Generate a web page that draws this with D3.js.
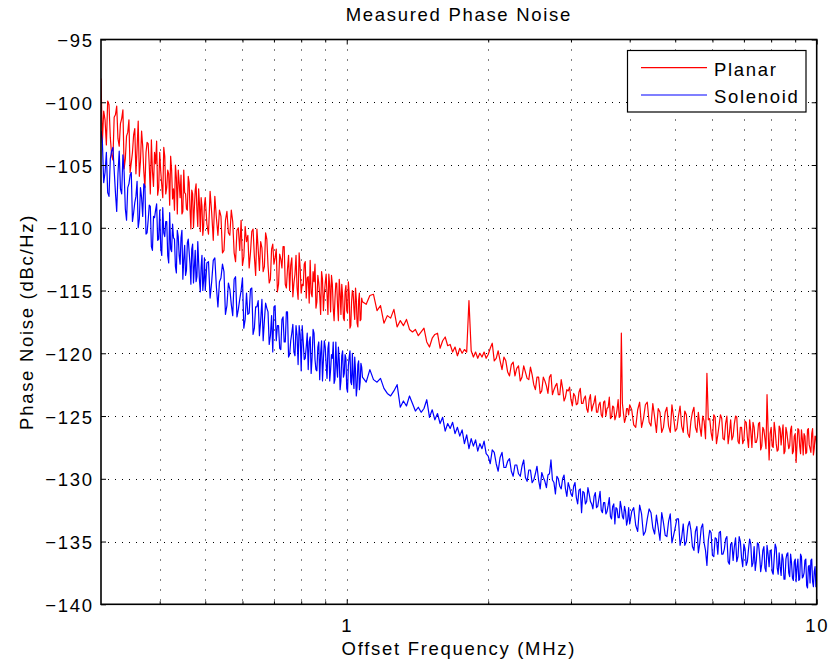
<!DOCTYPE html>
<html>
<head>
<meta charset="utf-8">
<script src="https://cdn.jsdelivr.net/npm/d3@7"></script>
<style>
  html, body { margin: 0; padding: 0; background: #fff; }
  svg { display: block; }
  text { font-family: "Liberation Sans", Arial, Helvetica, sans-serif; fill: #000; }
</style>
</head>
<body>
<svg id="chart" width="828" height="664"></svg>
<script>
// Offset frequencies (MHz): fine sweep 0.300–1.076, coarse sweep 1.08–10
const freqMHz = [
  0.300,0.302,0.304,0.306,0.308,0.310,0.312,0.314,0.316,0.318,
  0.320,0.322,0.324,0.326,0.328,0.330,0.332,0.334,0.336,0.338,
  0.340,0.342,0.344,0.346,0.348,0.350,0.352,0.354,0.356,0.358,
  0.360,0.362,0.364,0.366,0.368,0.370,0.372,0.374,0.376,0.378,
  0.380,0.382,0.384,0.386,0.388,0.390,0.392,0.394,0.396,0.398,
  0.400,0.402,0.404,0.406,0.408,0.410,0.412,0.414,0.416,0.418,
  0.420,0.422,0.424,0.426,0.428,0.430,0.432,0.434,0.436,0.438,
  0.440,0.442,0.444,0.446,0.448,0.450,0.452,0.454,0.456,0.458,
  0.460,0.462,0.464,0.466,0.468,0.470,0.472,0.474,0.476,0.478,
  0.480,0.482,0.484,0.486,0.488,0.490,0.492,0.494,0.496,0.498,
  0.500,0.504,0.508,0.512,0.516,0.520,0.524,0.528,0.532,0.536,
  0.540,0.544,0.548,0.552,0.556,0.560,0.564,0.568,0.572,0.576,
  0.580,0.584,0.588,0.592,0.596,0.600,0.604,0.608,0.612,0.616,
  0.620,0.624,0.628,0.632,0.636,0.640,0.644,0.648,0.652,0.656,
  0.660,0.664,0.668,0.672,0.676,0.680,0.684,0.688,0.692,0.696,
  0.700,0.704,0.708,0.712,0.716,0.720,0.724,0.728,0.732,0.736,
  0.740,0.744,0.748,0.752,0.756,0.760,0.764,0.768,0.772,0.776,
  0.780,0.784,0.788,0.792,0.796,0.800,0.804,0.808,0.812,0.816,
  0.820,0.824,0.828,0.832,0.836,0.840,0.844,0.848,0.852,0.856,
  0.860,0.864,0.868,0.872,0.876,0.880,0.884,0.888,0.892,0.896,
  0.900,0.904,0.908,0.912,0.916,0.920,0.924,0.928,0.932,0.936,
  0.940,0.944,0.948,0.952,0.956,0.960,0.964,0.968,0.972,0.976,
  0.980,0.984,0.988,0.992,0.996,1.000,1.004,1.008,1.012,1.016,
  1.020,1.024,1.028,1.032,1.036,1.040,1.044,1.048,1.052,1.056,
  1.060,1.064,1.068,1.072,1.076,
  1.08,1.10,1.12,1.14,1.16,1.18,1.20,1.22,1.24,1.26,
  1.28,1.30,1.32,1.34,1.36,1.38,1.40,1.42,1.44,1.46,
  1.48,1.50,1.52,1.54,1.56,1.58,1.60,1.62,1.64,1.66,
  1.68,1.70,1.72,1.74,1.76,1.78,1.80,1.82,1.84,1.86,
  1.88,1.90,1.92,1.94,1.96,1.98,
  2.00,2.02,2.04,2.06,2.08,2.10,2.12,2.14,2.16,2.18,
  2.20,2.22,2.24,2.26,2.28,2.30,2.32,2.34,2.36,2.38,
  2.40,2.42,2.44,2.46,2.48,2.50,2.52,2.54,2.56,2.58,
  2.60,2.62,2.64,2.66,2.68,2.70,2.72,2.74,2.76,2.78,
  2.80,2.82,2.84,2.86,2.88,2.90,2.92,2.94,2.96,2.98,
  3.00,3.02,3.04,3.06,3.08,3.10,3.12,3.14,3.16,3.18,
  3.20,3.22,3.24,3.26,3.28,3.30,3.32,3.34,3.36,3.38,
  3.40,3.42,3.44,3.46,3.48,3.50,3.52,3.54,3.56,3.58,
  3.60,3.62,3.64,3.66,3.68,3.70,3.72,3.74,3.76,3.78,
  3.80,3.82,3.84,3.86,3.88,3.90,3.92,3.94,3.96,3.98,
  4.00,4.04,4.08,4.12,4.16,4.20,4.24,4.28,4.32,4.36,
  4.40,4.44,4.48,4.52,4.56,4.60,4.64,4.68,4.72,4.76,
  4.80,4.84,4.88,4.92,4.96,5.00,5.04,5.08,5.12,5.16,
  5.20,5.24,5.28,5.32,5.36,5.40,5.44,5.48,5.52,5.56,
  5.60,5.64,5.68,5.72,5.76,5.80,5.84,5.88,5.92,5.96,
  6.00,6.04,6.08,6.12,6.16,6.20,6.24,6.28,6.32,6.36,
  6.40,6.44,6.48,6.52,6.56,6.60,6.64,6.68,6.72,6.76,
  6.80,6.84,6.88,6.92,6.96,7.00,7.04,7.08,7.12,7.16,
  7.20,7.24,7.28,7.32,7.36,7.40,7.44,7.48,7.52,7.56,
  7.60,7.64,7.68,7.72,7.76,7.80,7.84,7.88,7.92,7.96,
  8.00,8.04,8.08,8.12,8.16,8.20,8.24,8.28,8.32,8.36,
  8.40,8.44,8.48,8.52,8.56,8.60,8.64,8.68,8.72,8.76,
  8.80,8.84,8.88,8.92,8.96,9.00,9.04,9.08,9.12,9.16,
  9.20,9.24,9.28,9.32,9.36,9.40,9.44,9.48,9.52,9.56,
  9.60,9.64,9.68,9.72,9.76,9.80,9.84,9.88,9.92,9.96,
  10.00
];

// Planar inductor oscillator (dBc/Hz)
const planarDbc = [
  -98.1,-103.2,-100.7,-101.4,-103.4,-99.9,-100.2,-102.8,-104.2,-104.6,
  -101.2,-101.0,-100.3,-102.9,-103.5,-101.7,-101.3,-100.6,-105.3,-104.5,
  -102.7,-102.4,-101.4,-105.6,-104.8,-104.0,-102.6,-102.1,-105.7,-103.7,
  -101.5,-105.9,-104.7,-102.3,-103.5,-105.5,-106.8,-104.0,-103.2,-103.3,
  -105.0,-107.3,-103.0,-105.5,-106.7,-104.0,-104.9,-103.1,-107.4,-106.8,
  -104.0,-105.5,-106.6,-107.6,-103.6,-104.3,-107.3,-106.8,-105.4,-105.7,
  -108.2,-104.3,-105.4,-107.7,-106.9,-108.6,-105.0,-106.0,-108.9,-105.4,
  -106.4,-107.6,-105.8,-108.9,-108.7,-105.4,-107.2,-107.3,-108.5,-108.6,
  -105.9,-106.4,-108.5,-110.1,-107.0,-107.3,-110.0,-108.4,-107.0,-106.5,
  -108.6,-109.9,-106.9,-108.1,-110.3,-107.6,-108.3,-110.6,-109.9,-108.2,
  -107.6,-109.7,-110.5,-107.1,-108.8,-111.0,-107.5,-109.2,-110.6,-108.6,
  -109.1,-112.0,-111.8,-109.4,-108.7,-110.4,-110.6,-108.6,-109.5,-112.0,
  -112.7,-110.2,-110.0,-111.8,-109.4,-113.0,-112.3,-109.9,-111.1,-110.6,
  -113.2,-112.0,-110.3,-110.1,-112.3,-113.8,-110.1,-111.7,-113.4,-111.1,
  -111.6,-113.5,-113.1,-110.4,-110.9,-113.0,-114.4,-114.1,-111.7,-111.3,
  -112.9,-112.4,-111.7,-115.1,-114.5,-112.1,-112.5,-113.2,-111.5,-111.5,
  -114.5,-114.8,-113.3,-112.2,-115.0,-113.0,-112.4,-115.5,-114.4,-113.7,
  -112.2,-114.8,-115.7,-112.0,-113.2,-115.2,-114.5,-114.6,-112.9,-112.7,
  -115.6,-114.0,-113.9,-116.0,-112.6,-115.2,-115.5,-113.5,-114.3,-112.9,
  -116.4,-115.9,-113.8,-114.4,-115.4,-116.9,-113.5,-114.1,-116.6,-115.3,
  -114.4,-113.7,-115.3,-116.9,-113.7,-114.6,-116.7,-113.8,-114.5,-116.4,
  -117.4,-115.7,-114.4,-114.4,-116.2,-117.4,-114.1,-115.2,-116.9,-114.5,
  -115.4,-117.2,-117.4,-115.1,-114.6,-116.6,-116.8,-114.3,-115.2,-118.0,
  -117.8,-115.9,-115.0,-115.2,-116.5,-117.3,-114.8,-115.7,-117.6,-117.9,
  -115.8,-115.2,-117.4,-117.3,-115.6,
  -115.9,-116.1,-115.4,-115.3,-116.6,-116.2,-117.6,-117.0,-117.2,-116.5,
  -117.9,-117.4,-117.8,-117.3,-118.1,-118.3,-118.1,-118.6,-118.3,-118.0,
  -119.1,-119.5,-118.8,-118.5,-118.4,-119.6,-119.0,-118.7,-119.4,-119.3,
  -119.9,-119.5,-120.2,-119.6,-120.0,-119.7,-119.9,-115.8,-119.8,-120.3,
  -119.9,-120.4,-120.0,-120.3,-119.9,-120.4,
  -120.1,-119.6,-119.2,-120.6,-120.4,-119.8,-120.6,-121.3,-120.3,-120.6,
  -121.5,-121.8,-120.9,-120.7,-121.8,-121.2,-121.0,-122.2,-121.9,-121.0,
  -121.5,-122.0,-122.1,-121.1,-121.7,-122.5,-122.9,-121.9,-121.9,-123.2,
  -123.0,-121.9,-122.2,-122.6,-123.2,-121.9,-121.7,-123.3,-122.9,-122.6,
  -122.4,-123.3,-123.3,-122.1,-122.8,-123.8,-123.5,-122.9,-123.0,-122.7,
  -123.7,-124.2,-123.2,-123.4,-124.1,-124.0,-123.1,-122.8,-124.0,-124.0,
  -123.6,-123.4,-124.4,-124.7,-123.7,-123.3,-124.6,-124.2,-123.9,-123.4,
  -124.7,-124.7,-124.1,-123.9,-124.9,-125.1,-123.9,-123.8,-125.0,-124.4,
  -124.3,-123.5,-125.2,-125.1,-124.2,-124.3,-125.3,-125.0,-124.5,-123.7,
  -125.1,-125.0,-118.4,-124.0,-124.8,-125.5,-125.2,-124.4,-124.4,-124.9,
  -124.1,-124.5,-125.7,-125.9,-124.5,-123.9,-125.9,-125.2,-124.1,-123.9,
  -125.5,-125.8,-124.0,-125.1,-126.3,-124.4,-124.7,-126.3,-125.9,-124.7,
  -124.3,-125.8,-126.3,-124.1,-125.1,-126.2,-126.0,-125.0,-124.2,-125.8,
  -126.3,-124.6,-124.9,-126.4,-126.7,-125.4,-124.7,-124.3,-125.9,-126.3,
  -124.7,-125.8,-126.6,-125.0,-125.4,-126.8,-121.6,-125.3,-125.2,-126.3,
  -126.9,-124.9,-125.1,-127.2,-126.5,-125.7,-124.9,-125.2,-126.8,-126.9,
  -125.6,-125.0,-127.2,-126.4,-125.3,-126.9,-126.6,-125.6,-125.0,-125.1,
  -127.0,-127.2,-125.9,-125.9,-127.2,-126.9,-125.4,-125.5,-126.7,-127.5,
  -125.3,-126.2,-127.5,-125.5,-125.9,-127.1,-127.1,-126.7,-125.6,-125.5,
  -127.7,-127.4,-125.9,-126.1,-126.8,-127.6,-123.3,-126.0,-128.5,-126.4,
  -125.9,-127.4,-127.5,-125.5,-126.2,-127.2,-127.8,-127.7,-125.8,-126.0,
  -127.3,-126.4,-125.7,-128.0,-127.8,-125.9,-126.3,-127.0,-127.6,-127.4,
  -126.1,-125.8,-128.0,-127.8,-126.6,-126.4,-128.7,-127.3,-126.0,-126.1,
  -127.4,-128.0,-126.1,-126.8,-128.1,-126.4,-126.6,-128.0,-127.9,-126.1,
  -126.0,-127.3,-127.6,-127.9,-126.4,-126.0,-128.1,-127.6,-126.6,-126.7,
  -127.4
];

// Solenoid inductor oscillator (dBc/Hz)
const solenoidDbc = [
  -102.3,-103.1,-106.4,-105.6,-104.0,-107.2,-107.5,-104.5,-103.9,-103.6,
  -105.4,-107.2,-108.7,-105.7,-103.9,-106.9,-107.3,-104.2,-105.6,-108.5,
  -109.4,-106.8,-106.5,-105.8,-105.6,-109.5,-108.8,-108.0,-107.5,-106.3,
  -110.0,-109.3,-106.8,-107.6,-109.1,-106.5,-106.7,-110.5,-110.4,-109.4,
  -108.2,-108.3,-111.5,-111.8,-109.1,-109.2,-108.6,-108.1,-111.0,-110.9,
  -108.6,-111.6,-112.2,-108.4,-110.4,-110.7,-109.5,-109.5,-112.2,-112.8,
  -108.8,-111.7,-111.9,-109.7,-110.8,-110.9,-113.1,-113.6,-110.2,-110.7,
  -112.2,-112.9,-110.8,-110.2,-114.1,-112.5,-111.4,-113.8,-113.4,-111.2,
  -110.9,-111.9,-112.9,-114.5,-111.7,-111.3,-114.4,-113.1,-111.8,-114.3,
  -113.9,-111.1,-112.7,-114.2,-115.1,-113.1,-112.2,-115.0,-114.2,-112.4,
  -115.0,-112.8,-112.7,-115.6,-114.3,-112.6,-112.4,-114.7,-116.3,-114.3,
  -114.0,-112.9,-113.5,-116.9,-116.2,-114.4,-114.9,-116.1,-117.0,-114.1,
  -113.9,-117.1,-116.5,-115.7,-115.0,-114.0,-118.0,-117.3,-115.2,-116.9,
  -116.8,-114.9,-114.8,-118.5,-118.0,-116.3,-116.3,-115.8,-118.6,-117.4,
  -115.7,-119.0,-117.4,-116.0,-116.4,-116.7,-119.3,-118.6,-117.0,-119.9,
  -116.3,-116.2,-119.0,-117.8,-117.8,-119.6,-119.7,-117.3,-117.1,-119.1,
  -119.1,-116.7,-116.7,-120.3,-120.1,-119.0,-118.4,-117.7,-119.9,-120.2,
  -117.8,-118.6,-120.9,-117.8,-118.5,-121.4,-117.8,-119.1,-120.5,-120.4,
  -119.5,-118.4,-121.3,-119.1,-118.7,-121.6,-120.3,-118.1,-118.4,-120.5,
  -121.3,-121.4,-119.5,-119.1,-122.1,-120.0,-119.0,-122.2,-120.5,-119.0,
  -119.5,-120.9,-122.0,-119.6,-119.1,-122.2,-121.3,-120.1,-120.4,-119.1,
  -122.4,-122.1,-119.1,-121.0,-121.9,-119.5,-120.5,-122.9,-122.2,-120.2,
  -119.8,-121.9,-121.6,-120.1,-120.4,-122.8,-123.1,-121.0,-120.3,-119.8,
  -122.3,-122.5,-120.0,-121.9,-122.8,-120.3,-121.4,-123.4,-122.7,-120.9,
  -120.6,-122.9,-122.3,-120.8,-121.1,
  -121.9,-122.3,-121.3,-122.1,-122.3,-122.0,-122.8,-123.2,-123.4,-123.0,
  -122.5,-124.3,-123.8,-124.2,-123.4,-124.0,-124.6,-124.3,-124.7,-124.4,
  -123.7,-125.1,-124.5,-125.3,-124.8,-125.6,-125.1,-126.2,-125.6,-126.0,
  -125.5,-126.4,-125.9,-126.6,-126.1,-127.2,-126.5,-127.6,-126.8,-127.4,
  -126.9,-127.8,-127.2,-127.6,-127.0,-128.0,
  -128.2,-128.8,-127.7,-127.9,-128.8,-129.4,-128.3,-127.9,-129.1,-129.1,
  -128.6,-128.4,-129.4,-129.8,-128.9,-128.9,-129.6,-129.8,-129.0,-128.5,
  -129.9,-130.2,-129.3,-129.3,-130.3,-130.1,-129.6,-129.0,-130.1,-130.8,
  -129.5,-129.9,-130.2,-130.7,-129.7,-129.6,-128.5,-130.1,-130.3,-131.2,
  -129.8,-130.0,-130.6,-130.8,-130.0,-129.7,-130.8,-131.4,-130.3,-130.7,
  -131.2,-131.4,-130.6,-130.3,-131.5,-132.0,-130.9,-130.8,-132.7,-131.0,
  -131.1,-132.0,-131.8,-130.7,-131.2,-131.8,-132.0,-132.4,-131.4,-131.1,
  -132.3,-132.2,-131.6,-131.0,-132.5,-132.7,-131.9,-131.9,-132.8,-132.6,
  -132.1,-131.5,-133.0,-133.2,-132.2,-132.0,-133.6,-132.3,-132.4,-133.1,
  -133.1,-131.8,-132.3,-133.0,-133.2,-132.2,-132.6,-133.7,-133.3,-132.3,
  -133.6,-132.6,-132.3,-133.7,-134.2,-132.1,-132.8,-134.5,-134.2,-133.2,
  -132.4,-132.7,-133.9,-134.4,-132.9,-133.9,-134.9,-132.7,-133.5,-134.5,
  -134.6,-133.4,-132.8,-135.1,-134.5,-133.9,-133.2,-133.2,-135.3,-134.7,
  -133.6,-135.3,-135.0,-133.8,-133.4,-134.1,-135.4,-135.7,-134.2,-133.8,
  -135.9,-135.1,-133.9,-133.6,-135.1,-135.7,-136.9,-134.9,-134.1,-134.3,
  -136.1,-136.2,-134.7,-134.8,-136.0,-134.3,-134.2,-136.0,-136.0,-135.6,
  -134.8,-134.6,-136.6,-136.8,-135.2,-135.1,-136.5,-135.4,-134.7,-136.6,
  -136.2,-134.6,-135.0,-136.3,-137.0,-135.2,-135.6,-136.9,-136.6,-135.6,
  -134.8,-135.2,-137.0,-136.7,-135.4,-137.3,-136.5,-135.1,-135.2,-136.1,
  -137.4,-136.8,-135.7,-135.4,-137.1,-137.4,-135.3,-136.0,-137.0,-135.7,
  -135.7,-137.4,-137.6,-136.3,-135.2,-135.5,-137.1,-137.6,-135.9,-137.0,
  -137.7,-136.0,-136.4,-138.0,-138.0,-136.4,-136.0,-135.9,-137.5,-137.8,
  -136.0,-136.7,-137.9,-138.1,-136.6,-136.4,-138.2,-137.0,-136.4,-138.1,
  -138.0,-136.0,-136.2,-137.9,-137.8,-137.5,-136.5,-136.4,-138.5,-138.7,
  -137.0,-136.9,-138.3,-136.5,-136.4,-138.2,-138.6,-137.4,-137.0,-138.6,
  -138.0
];

const seriesNames  = ["Planar", "Solenoid"];
const seriesColors = ["#ff0000", "#0000ff"];
const yTicks       = [-140, -135, -130, -125, -120, -115, -110, -105, -100, -95];
const xMajorTicks  = [1, 10];
const xMinorTicks  = [0.4, 0.5, 0.6, 0.7, 0.8, 0.9, 2, 3, 4, 5, 6, 7, 8, 9];
const titleText    = "Measured Phase Noise";
const xLabelText   = "Offset Frequency (MHz)";
const yLabelText   = "Phase Noise (dBc/Hz)";

// ---- layout ----
const box = { left: 101, right: 816.7, top: 39.5, bottom: 604.3 };
const fontSize = "18.5px";
const spacing = "1.7px";

const svg = d3.select("#chart");
const x = d3.scaleLog().domain([0.3, 10]).range([box.left, box.right]);
const y = d3.scaleLinear().domain([-140, -95]).range([box.bottom, box.top]);

svg.append("defs").append("clipPath").attr("id", "plot-clip")
  .append("rect")
  .attr("x", box.left).attr("y", box.top)
  .attr("width", box.right - box.left).attr("height", box.bottom - box.top);

// dotted grid
const grid = svg.append("g").attr("fill", "none");
grid.selectAll(".gh")
  .data(yTicks.filter(v => v > -140 && v < -95))
  .join("line").attr("class", "gh")
  .attr("x1", box.left).attr("x2", box.right)
  .attr("y1", d => Math.round(y(d)) + 0.5).attr("y2", d => Math.round(y(d)) + 0.5)
  .style("stroke", "#000").style("stroke-width", 1)
  .attr("stroke-dasharray", "1,6");
grid.selectAll(".gv")
  .data(xMinorTicks.concat([1]))
  .join("line").attr("class", "gv")
  .attr("x1", d => Math.round(x(d)) + 0.5).attr("x2", d => Math.round(x(d)) + 0.5)
  .attr("y1", box.top).attr("y2", box.bottom)
  .style("stroke", "#000").style("stroke-width", 1)
  .attr("stroke-dasharray", "1,9");

// data traces
const rows = freqMHz.map((f, i) => ({ f, p: planarDbc[i], s: solenoidDbc[i] }));
const traces = svg.append("g").attr("clip-path", "url(#plot-clip)");
[["p", 0], ["s", 1]].forEach(([key, k]) => {
  traces.append("path")
    .datum(rows)
    .style("fill", "none")
    .style("stroke", seriesColors[k])
    .style("stroke-width", 1.2)
    .style("stroke-linejoin", "round")
    .attr("d", d3.line().x(d => x(d.f)).y(d => y(d[key])));
});

// axes: ticks point inward on all four sides
function styleAxis(g) {
  g.select(".domain").remove();
  g.selectAll("line").style("stroke", "#000").style("stroke-width", 1);
  g.selectAll("text")
    .style("font-size", fontSize)
    .style("letter-spacing", spacing)
    .attr("fill", "#000");
}

svg.append("g")
  .attr("transform", `translate(0,${box.bottom})`)
  .call(d3.axisBottom(x).tickValues(xMajorTicks).tickFormat(d3.format("d"))
    .tickSize(-5).tickSizeOuter(0).tickPadding(14.6))
  .call(styleAxis);
svg.append("g")
  .attr("transform", `translate(0,${box.bottom})`)
  .call(d3.axisBottom(x).tickValues(xMinorTicks).tickFormat("").tickSize(-3).tickSizeOuter(0))
  .call(styleAxis);
svg.append("g")
  .attr("transform", `translate(0,${box.top})`)
  .call(d3.axisTop(x).tickValues(xMajorTicks).tickFormat("").tickSize(-5).tickSizeOuter(0))
  .call(styleAxis);
svg.append("g")
  .attr("transform", `translate(0,${box.top})`)
  .call(d3.axisTop(x).tickValues(xMinorTicks).tickFormat("").tickSize(-3).tickSizeOuter(0))
  .call(styleAxis);

const yAxisLeft = svg.append("g")
  .attr("transform", `translate(${box.left},0)`)
  .call(d3.axisLeft(y).tickValues(yTicks).tickSize(-5).tickSizeOuter(0).tickPadding(7.3))
  .call(styleAxis);
yAxisLeft.selectAll("text").attr("dy", "0.38em");
svg.append("g")
  .attr("transform", `translate(${box.right},0)`)
  .call(d3.axisRight(y).tickValues(yTicks).tickFormat("").tickSize(-5).tickSizeOuter(0))
  .call(styleAxis);

// axes box
svg.append("rect")
  .attr("x", box.left).attr("y", box.top)
  .attr("width", box.right - box.left).attr("height", box.bottom - box.top)
  .style("fill", "none").style("stroke", "#000").style("stroke-width", 1.6);

// title and axis labels
const cx = (box.left + box.right) / 2;
svg.append("text").attr("x", cx).attr("y", 21).attr("text-anchor", "middle")
  .style("font-size", fontSize).style("letter-spacing", spacing).text(titleText);
svg.append("text").attr("x", cx).attr("y", 655).attr("text-anchor", "middle")
  .style("font-size", fontSize).style("letter-spacing", spacing).text(xLabelText);
svg.append("text")
  .attr("transform", `translate(33,${(box.top + box.bottom) / 2}) rotate(-90)`)
  .attr("text-anchor", "middle")
  .style("font-size", fontSize).style("letter-spacing", spacing).text(yLabelText);

// legend
const legend = svg.append("g");
legend.append("rect")
  .attr("x", 627.5).attr("y", 50.5).attr("width", 178.5).attr("height", 61.5)
  .style("fill", "#fff").style("stroke", "#000").style("stroke-width", 1.2);
seriesNames.forEach((name, k) => {
  const ly = 67.7 + k * 27.3;
  legend.append("line")
    .attr("x1", 641).attr("x2", 707).attr("y1", ly).attr("y2", ly)
    .style("stroke", seriesColors[k]).style("stroke-width", 1.2);
  legend.append("text")
    .attr("x", 714).attr("y", ly + 8.4)
    .style("font-size", fontSize).style("letter-spacing", spacing)
    .text(name);
});
</script>
</body>
</html>
